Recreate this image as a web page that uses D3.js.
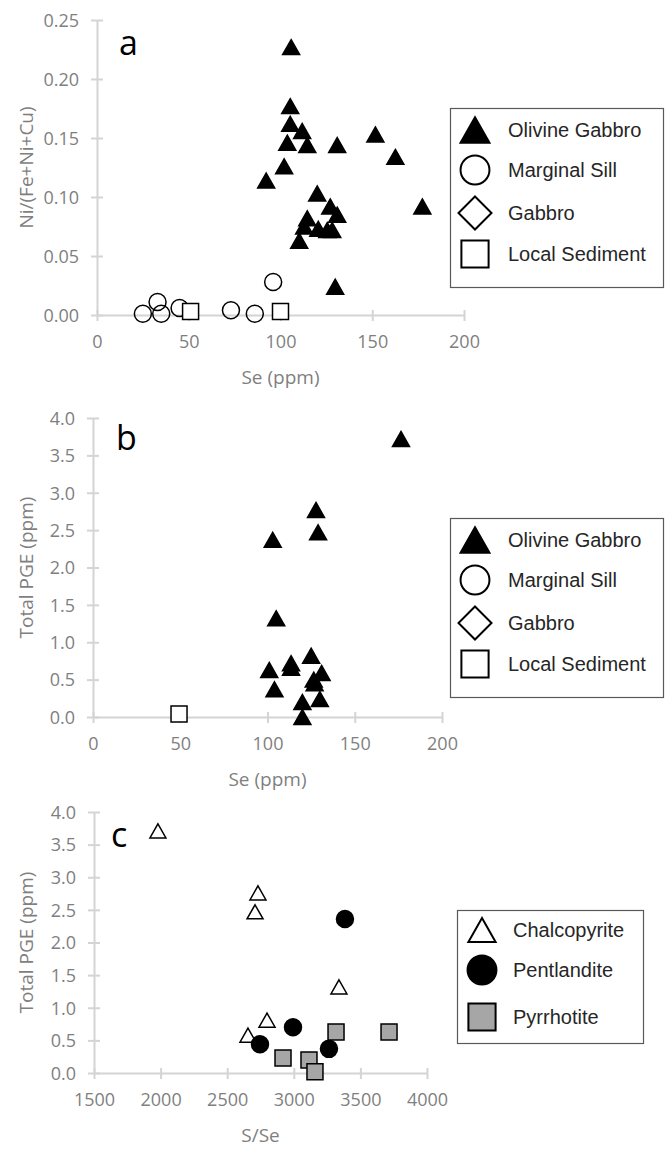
<!DOCTYPE html>
<html>
<head>
<meta charset="utf-8">
<script src="https://cdn.jsdelivr.net/npm/d3@7/dist/d3.min.js"></script>
<style>
  body { margin: 0; background: #fff; }
</style>
</head>
<body>
<div id="chart"></div>
<script>
// ---- a : Ni/(Fe+Ni+Cu) vs Se ----
const olivineSeA = [105.8, 105.3, 105.3, 111.8, 103.7, 114.6, 130.9, 151.7, 162.6, 102, 92.2, 120, 177.3, 127.1, 130.9, 114.6, 112.9, 120.6, 125.5, 128.2, 110.2, 129.8];
const olivineNiA = [0.227, 0.177, 0.162, 0.156, 0.146, 0.144, 0.144, 0.153, 0.134, 0.126, 0.114, 0.103, 0.092, 0.092, 0.085, 0.082, 0.075, 0.073, 0.072, 0.072, 0.063, 0.024];
const sillSeA = [25, 33, 35, 45, 73, 86, 96];
const sillNiA = [0.001, 0.011, 0.001, 0.006, 0.004, 0.001, 0.028];
const sedimentSeA = [51, 100];
const sedimentNiA = [0.003, 0.003];

// ---- b : Total PGE vs Se ----
const olivineSeB = [176.5, 127.8, 129, 103, 105, 101, 113.5, 113.5, 125, 131, 104, 127, 126.5, 120, 130, 120];
const olivinePgeB = [3.72, 2.77, 2.47, 2.37, 1.32, 0.63, 0.72, 0.66, 0.82, 0.59, 0.37, 0.45, 0.50, 0.20, 0.24, 0.0];
const sedimentSeB = [49.3];
const sedimentPgeB = [0.04];

// ---- c : Total PGE vs S/Se ----
const chalcoSSe = [1980, 2731, 2709, 3339, 2799, 2656];
const chalcoPge = [3.71, 2.76, 2.47, 1.32, 0.81, 0.58];
const pentSSe = [3384, 2994, 2746, 3264];
const pentPge = [2.36, 0.70, 0.44, 0.37];
const pyrrSSe = [2919, 3114, 3159, 3317, 3715];
const pyrrPge = [0.23, 0.20, 0.02, 0.63, 0.63];

// ---- 目盛り ----
const seTicks = [0, 50, 100, 150, 200];
const niTicks = [0, 0.05, 0.10, 0.15, 0.20, 0.25];
const pgeTicks = [0, 0.5, 1.0, 1.5, 2.0, 2.5, 3.0, 3.5, 4.0];
const sseTicks = [1500, 2000, 2500, 3000, 3500, 4000];

// ---- 表示設定 ----
const axisColor = "#d4d4d4";
const labelColor = "#7f7f7f";
const axisFont = "'Open Sans', sans-serif";
const legendFont = "'Liberation Sans', Arial, sans-serif";

const olivine = { shape: "triangle", size: 17, fill: "#000", stroke: "#000" };
const sill = { shape: "circle", size: 17, fill: "none", stroke: "#000" };
const gabbro = { shape: "diamond", size: 20, fill: "#fff", stroke: "#000" };
const sediment = { shape: "square", size: 16, fill: "#fff", stroke: "#000" };
const chalco = { shape: "triangle", size: 16, fill: "#fff", stroke: "#000" };
const pent = { shape: "circle", size: 17, fill: "#000", stroke: "#000" };
const pyrr = { shape: "square", size: 16, fill: "#a6a6a6", stroke: "#000" };

const panels = [
  {
    letter: "a", letterPos: [119, 55],
    left: 97, right: 464, top: 20, bottom: 315,
    xDomain: [0, 200], yDomain: [0, 0.25], xTicks: seTicks, yTicks: niTicks, yFmt: ".2f",
    xTitle: "Se (ppm)", yTitle: "Ni/(Fe+Ni+Cu)",
    series: [
      { style: olivine, xs: olivineSeA, ys: olivineNiA },
      { style: sill, xs: sillSeA, ys: sillNiA },
      { style: sediment, xs: sedimentSeA, ys: sedimentNiA }
    ],
    legend: { x: 450, y: 108, w: 213, h: 179, rows: [22, 62, 105, 146], items: [
      ["Olivine Gabbro", olivine], ["Marginal Sill", sill], ["Gabbro", gabbro], ["Local Sediment", sediment]
    ] }
  },
  {
    letter: "b", letterPos: [116, 450],
    left: 93, right: 442, top: 418, bottom: 717,
    xDomain: [0, 200], yDomain: [0, 4], xTicks: seTicks, yTicks: pgeTicks, yFmt: ".1f",
    xTitle: "Se (ppm)", yTitle: "Total PGE (ppm)",
    series: [
      { style: olivine, xs: olivineSeB, ys: olivinePgeB },
      { style: sediment, xs: sedimentSeB, ys: sedimentPgeB }
    ],
    legend: { x: 450, y: 518, w: 213, h: 179, rows: [22, 62, 105, 146], items: [
      ["Olivine Gabbro", olivine], ["Marginal Sill", sill], ["Gabbro", gabbro], ["Local Sediment", sediment]
    ] }
  },
  {
    letter: "c", letterPos: [111, 847],
    left: 94, right: 427, top: 812, bottom: 1073,
    xDomain: [1500, 4000], yDomain: [0, 4], xTicks: sseTicks, yTicks: pgeTicks, yFmt: ".1f",
    xTitle: "S/Se", yTitle: "Total PGE (ppm)",
    series: [
      { style: chalco, xs: chalcoSSe, ys: chalcoPge },
      { style: pent, xs: pentSSe, ys: pentPge },
      { style: pyrr, xs: pyrrSSe, ys: pyrrPge }
    ],
    legend: { x: 457, y: 910, w: 186, h: 133, rows: [20, 60, 107], items: [
      ["Chalcopyrite", chalco], ["Pentlandite", pent], ["Pyrrhotite", pyrr]
    ] }
  }
];

const svg = d3.select("#chart").append("svg")
  .attr("width", 669)
  .attr("height", 1151)
  .style("display", "block");

/**
 * マーカー描画（原点中心）
 */
function addMarker (g, style, scale) {
  const s = style.size * (scale || 1);
  const sw = scale > 1 ? 2 : 1.5;
  let el;
  if (style.shape === "circle") {
    el = g.append("circle").attr("r", s / 2);
  } else {
    let d;
    if (style.shape === "triangle") {
      const h = s * 0.88;
      d = `M0,${-h / 2}L${s / 2},${h / 2}L${-s / 2},${h / 2}Z`;
    } else if (style.shape === "square") {
      d = `M${-s / 2},${-s / 2}h${s}v${s}h${-s}Z`;
    } else {
      d = `M0,${-s / 2}L${s / 2},0L0,${s / 2}L${-s / 2},0Z`;
    }
    el = g.append("path").attr("d", d);
  }
  el.attr("fill", style.fill)
    .attr("stroke", style.stroke)
    .attr("stroke-width", sw)
    .attr("stroke-linejoin", "miter");
}

function drawPanel (p) {
  const x = d3.scaleLinear().domain(p.xDomain).range([p.left, p.right]);
  const y = d3.scaleLinear().domain(p.yDomain).range([p.bottom, p.top]);
  const g = svg.append("g");

  // x軸
  const gx = g.append("g")
    .attr("transform", `translate(0,${p.bottom})`)
    .call(d3.axisBottom(x).tickValues(p.xTicks).tickFormat(d3.format("d")).tickSizeOuter(0));
  gx.selectAll(".tick line").attr("y1", -5).attr("y2", 6);
  gx.selectAll(".tick text").attr("y", 27).attr("dy", "0.35em");

  // y軸
  const gy = g.append("g")
    .attr("transform", `translate(${p.left},0)`)
    .call(d3.axisLeft(y).tickValues(p.yTicks).tickFormat(d3.format(p.yFmt)).tickSizeOuter(0));
  gy.selectAll(".tick line").attr("x1", -6).attr("x2", 6);
  gy.selectAll(".tick text").attr("x", -18).attr("dy", "0.35em");

  [gx, gy].forEach(a => {
    a.attr("font-family", axisFont).attr("font-size", 18);
    a.select(".domain").attr("stroke", axisColor).attr("stroke-width", 2);
    a.selectAll(".tick line").attr("stroke", axisColor).attr("stroke-width", 2);
    a.selectAll(".tick text").attr("fill", labelColor);
  });

  // 軸タイトル
  g.append("text")
    .attr("x", (p.left + p.right) / 2)
    .attr("y", p.bottom + 62)
    .attr("dy", "0.35em")
    .attr("text-anchor", "middle")
    .attr("font-family", axisFont)
    .attr("font-size", 19)
    .attr("fill", labelColor)
    .text(p.xTitle);
  g.append("text")
    .attr("transform", `translate(26,${(p.top + p.bottom) / 2}) rotate(-90)`)
    .attr("dy", "0.35em")
    .attr("text-anchor", "middle")
    .attr("font-family", axisFont)
    .attr("font-size", 19)
    .attr("fill", labelColor)
    .text(p.yTitle);

  // パネル記号
  g.append("text")
    .attr("x", p.letterPos[0])
    .attr("y", p.letterPos[1])
    .attr("font-family", axisFont)
    .attr("font-size", 34)
    .attr("fill", "#000")
    .text(p.letter);

  // データ点
  p.series.forEach(s => {
    s.xs.forEach((v, i) => {
      const m = g.append("g").attr("transform", `translate(${x(v)},${y(s.ys[i])})`);
      addMarker(m, s.style, 1);
    });
  });

  // 凡例
  const L = p.legend;
  const lg = g.append("g").attr("transform", `translate(${L.x},${L.y})`);
  lg.append("rect")
    .attr("x", 0.5).attr("y", 0.5)
    .attr("width", L.w).attr("height", L.h)
    .attr("fill", "#fff")
    .attr("stroke", "#595959")
    .attr("stroke-width", 1.2);
  L.items.forEach((it, i) => {
    const row = lg.append("g").attr("transform", `translate(0,${L.rows[i]})`);
    const m = row.append("g").attr("transform", `translate(${L.x === 450 ? 25 : 25},0)`);
    addMarker(m, it[1], it[1].shape === "diamond" ? 1.65 : 1.7);
    row.append("text")
      .attr("x", L.x === 450 ? 58 : 56)
      .attr("dy", "0.35em")
      .attr("font-family", legendFont)
      .attr("font-size", 20)
      .attr("fill", "#262626")
      .text(it[0]);
  });
}

panels.forEach(drawPanel);
</script>
</body>
</html>
